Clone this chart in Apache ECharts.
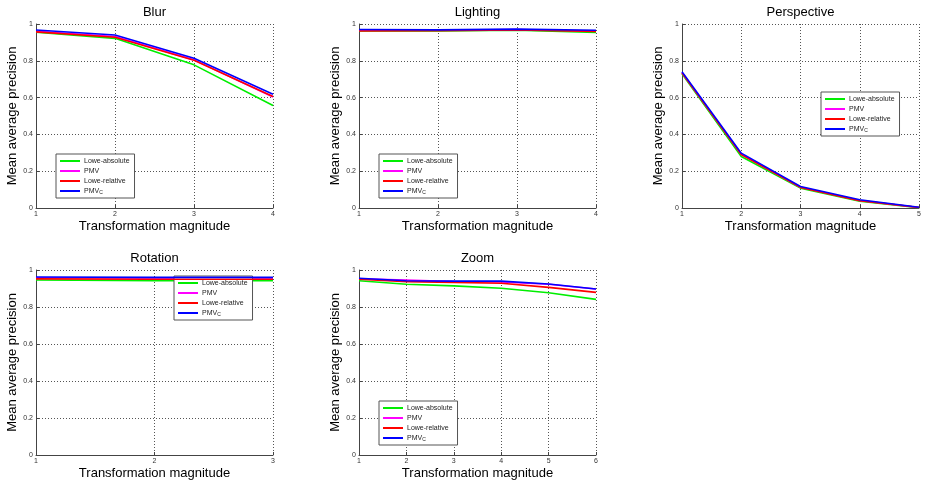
<!DOCTYPE html>
<html>
<head>
<meta charset="utf-8">
<script src="https://cdn.jsdelivr.net/npm/echarts@6/dist/echarts.min.js"></script>
<style>
  html, body { margin: 0; padding: 0; background: #fff; }
  #chart { width: 928px; height: 482px; }
</style>
</head>
<body>
<div id="chart"></div>
<script>
// series names & colours (same for every panel)
const seriesNames = ['Lowe-absolute', 'PMV', 'Lowe-relative', 'PMVc'];
const seriesColors = ['#00ee00', '#ff00ff', '#ff0000', '#0000ff'];

// Blur
const blurMag = [1, 2, 3, 4];
const blurLoweAbs = [0.955, 0.922, 0.778, 0.557];
const blurPMV = [0.960, 0.932, 0.805, 0.603];
const blurLoweRel = [0.957, 0.928, 0.803, 0.606];
const blurPMVc = [0.967, 0.940, 0.814, 0.618];

// Lighting
const lightMag = [1, 2, 3, 4];
const lightLoweAbs = [0.962, 0.962, 0.966, 0.954];
const lightPMV = [0.966, 0.966, 0.970, 0.962];
const lightLoweRel = [0.962, 0.964, 0.968, 0.960];
const lightPMVc = [0.970, 0.968, 0.972, 0.966];

// Perspective
const perMag = [1, 2, 3, 4, 5];
const perLoweAbs = [0.730, 0.280, 0.108, 0.037, 0.002];
const perPMV = [0.735, 0.292, 0.113, 0.041, 0.003];
const perLoweRel = [0.735, 0.290, 0.112, 0.040, 0.003];
const perPMVc = [0.740, 0.298, 0.117, 0.045, 0.004];

// Rotation
const rotMag = [1, 2, 3];
const rotLoweAbs = [0.946, 0.942, 0.942];
const rotPMV = [0.958, 0.957, 0.957];
const rotLoweRel = [0.952, 0.950, 0.950];
const rotPMVc = [0.962, 0.960, 0.960];

// Zoom
const zoomMag = [1, 2, 3, 4, 5, 6];
const zoomLoweAbs = [0.942, 0.923, 0.914, 0.901, 0.877, 0.841];
const zoomPMV = [0.952, 0.946, 0.937, 0.935, 0.923, 0.897];
const zoomLoweRel = [0.950, 0.937, 0.933, 0.928, 0.906, 0.879];
const zoomPMVc = [0.955, 0.942, 0.940, 0.940, 0.924, 0.897];

const yTicks = [0, 0.2, 0.4, 0.6, 0.8, 1];

const panels = [
  { title: 'Blur', mag: blurMag, data: [blurLoweAbs, blurPMV, blurLoweRel, blurPMVc],
    grid: { left: 36, top: 24, width: 237, height: 184 }, legend: { left: 56, top: 154 } },
  { title: 'Lighting', mag: lightMag, data: [lightLoweAbs, lightPMV, lightLoweRel, lightPMVc],
    grid: { left: 359, top: 24, width: 237, height: 184 }, legend: { left: 379, top: 154 } },
  { title: 'Perspective', mag: perMag, data: [perLoweAbs, perPMV, perLoweRel, perPMVc],
    grid: { left: 682, top: 24, width: 237, height: 184 }, legend: { left: 821, top: 92 } },
  { title: 'Rotation', mag: rotMag, data: [rotLoweAbs, rotPMV, rotLoweRel, rotPMVc],
    grid: { left: 36, top: 270, width: 237, height: 185 }, legend: { left: 174, top: 276 } },
  { title: 'Zoom', mag: zoomMag, data: [zoomLoweAbs, zoomPMV, zoomLoweRel, zoomPMVc],
    grid: { left: 359, top: 270, width: 237, height: 185 }, legend: { left: 379, top: 401 } }
];

const font = 'Liberation Sans, Arial, sans-serif';
const gridLine = { show: true, lineStyle: { color: '#555', type: [1, 2], width: 1 } };

const option = {
  backgroundColor: '#fff',
  animation: false,
  title: [],
  grid: [],
  legend: [],
  xAxis: [],
  yAxis: [],
  series: []
};

panels.forEach((p, i) => {
  option.title.push({
    text: p.title,
    left: p.grid.left + p.grid.width / 2,
    top: p.grid.top - 18,
    textAlign: 'center',
    padding: 0,
    textStyle: { fontFamily: font, fontSize: 13, fontWeight: 'normal', color: '#000' }
  });
  option.grid.push(Object.assign({ containLabel: false }, p.grid));
  option.legend.push({
    left: p.legend.left,
    top: p.legend.top,
    orient: 'vertical',
    data: seriesNames,
    icon: 'rect',
    itemWidth: 20,
    itemHeight: 2,
    itemGap: 2,
    padding: [3, 5, 3, 4],
    selectedMode: false,
    backgroundColor: '#fff',
    borderColor: '#555',
    borderWidth: 1,
    formatter: name => name === 'PMVc' ? 'PMV{sub|C}' : name,
    textStyle: {
      fontFamily: font, fontSize: 7, color: '#222', lineHeight: 8, padding: [0, 0, 0, -1],
      rich: { sub: { fontFamily: font, fontSize: 5, color: '#222', verticalAlign: 'bottom', padding: [3, 0, 0, 0] } }
    }
  });
  const xMax = p.mag[p.mag.length - 1];
  option.xAxis.push({
    gridIndex: i,
    type: 'value',
    min: p.mag[0],
    max: xMax,
    interval: 1,
    name: 'Transformation magnitude',
    nameLocation: 'middle',
    nameGap: 12,
    nameTextStyle: { fontFamily: font, fontSize: 13, color: '#000' },
    axisLine: { show: true, lineStyle: { color: '#444', width: 1 } },
    axisTick: { show: true, inside: true, length: 3, lineStyle: { color: '#444' } },
    axisLabel: { fontFamily: font, fontSize: 7, color: '#333', margin: 3 },
    splitLine: gridLine
  });
  option.yAxis.push({
    gridIndex: i,
    type: 'value',
    min: yTicks[0],
    max: yTicks[yTicks.length - 1],
    interval: 0.2,
    name: 'Mean average precision',
    nameLocation: 'middle',
    nameGap: 15,
    nameTextStyle: { fontFamily: font, fontSize: 13, color: '#000' },
    axisLine: { show: true, lineStyle: { color: '#444', width: 1 } },
    axisTick: { show: true, inside: true, length: 3, lineStyle: { color: '#444' } },
    axisLabel: { fontFamily: font, fontSize: 7, color: '#333', margin: 3 },
    splitLine: gridLine
  });
  p.data.forEach((vals, k) => {
    option.series.push({
      name: seriesNames[k],
      type: 'line',
      xAxisIndex: i,
      yAxisIndex: i,
      data: p.mag.map((m, j) => [m, vals[j]]),
      showSymbol: false,
      symbol: 'none',
      color: seriesColors[k],
      lineStyle: { width: 1.6, color: seriesColors[k] },
      z: 2 + k
    });
  });
});

const myChart = echarts.init(document.getElementById('chart'));
myChart.setOption(option);
</script>
</body>
</html>
